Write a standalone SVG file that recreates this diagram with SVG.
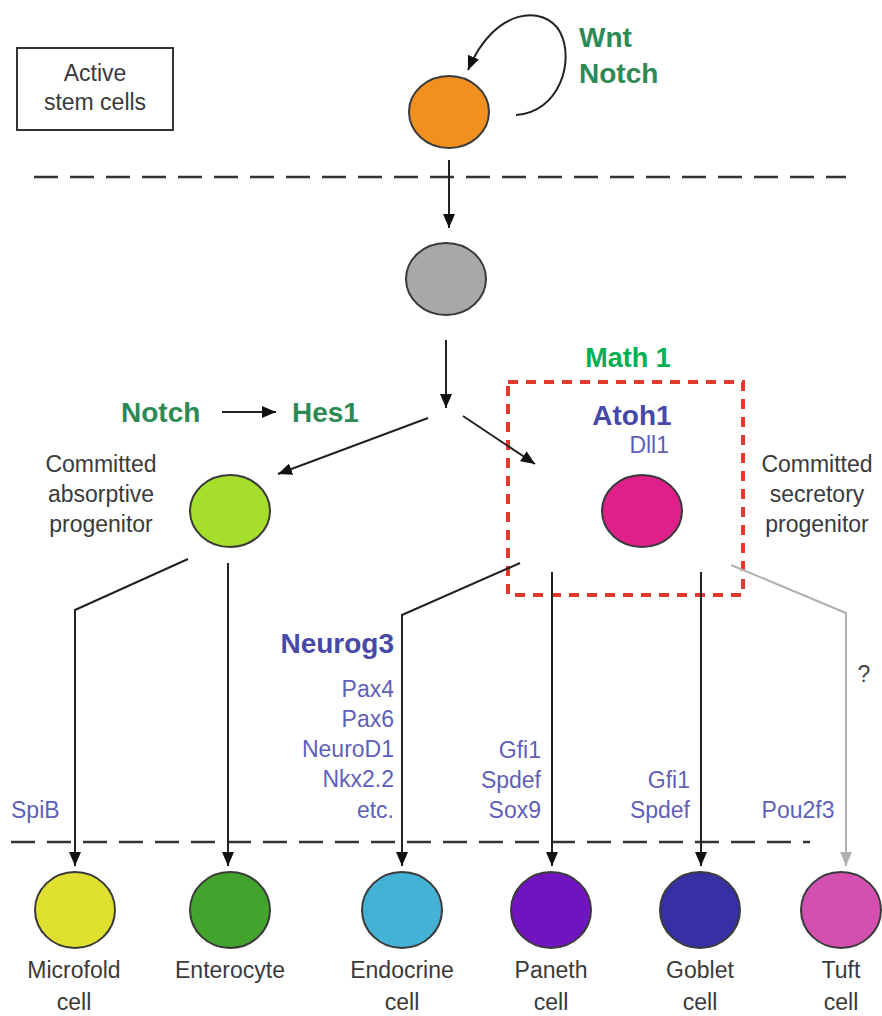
<svg xmlns="http://www.w3.org/2000/svg" width="882" height="1016" viewBox="0 0 882 1016">
<style>
.cell{stroke:#3a3a3a;stroke-width:2}
.lbl{font-family:"Liberation Sans",Arial,sans-serif;font-size:23px;fill:#3a3a3a;text-anchor:middle}
.grn{font-family:"Liberation Sans",Arial,sans-serif;font-size:28px;font-weight:bold;fill:#2e8a55}
.blu{font-family:"Liberation Sans",Arial,sans-serif;font-size:28px;font-weight:bold;fill:#4848a8}
.pur{font-family:"Liberation Sans",Arial,sans-serif;font-size:23px;fill:#5f5fb8}
.ln{fill:none;stroke:#222;stroke-width:2}
.dash{fill:none;stroke:#333;stroke-width:2.5;stroke-dasharray:24 12}
</style>
<defs>
<marker id="ah" markerUnits="userSpaceOnUse" markerWidth="14" markerHeight="12" refX="14" refY="6" orient="auto"><path d="M0,0 L14,6 L0,12 z" fill="#111"/></marker>
<marker id="ahg" markerUnits="userSpaceOnUse" markerWidth="14" markerHeight="12" refX="14" refY="6" orient="auto"><path d="M0,0 L14,6 L0,12 z" fill="#b0b0b0"/></marker>
</defs>
<rect width="882" height="1016" fill="#fff"/>
<g id="legend">
<rect x="17" y="48" width="156" height="82" fill="none" stroke="#333" stroke-width="2"/>
<text class="lbl" x="95" y="81">Active</text>
<text class="lbl" x="95" y="110">stem cells</text>
</g>
<g id="boundaries">
<line class="dash" x1="34" y1="177" x2="846" y2="177"/>
<line class="dash" x1="11" y1="842" x2="810" y2="842"/>
</g>
<g id="secretory-box">
<rect x="508" y="382" width="235" height="213" fill="none" stroke="#e03a2a" stroke-width="4" stroke-dasharray="10 8"/>
<text x="628" y="367" font-family="'Liberation Sans',Arial,sans-serif" font-size="27" font-weight="bold" fill="#00b050" text-anchor="middle">Math 1</text>
</g>
<g id="connectors">
<path class="ln" d="M516,115 C560,112 575,60 560,32 C545,5 495,6 468,70" marker-end="url(#ah)"/>
<path class="ln" d="M449,160 V228" marker-end="url(#ah)"/>
<path class="ln" d="M446,340 V408" marker-end="url(#ah)"/>
<path class="ln" d="M222,412 H276" marker-end="url(#ah)"/>
<path class="ln" d="M428,418 L278,474" marker-end="url(#ah)"/>
<path class="ln" d="M463,416 L535,464" marker-end="url(#ah)"/>
<path class="ln" d="M188,559 L75,610 V866" marker-end="url(#ah)"/>
<path class="ln" d="M228,563 V866" marker-end="url(#ah)"/>
<path class="ln" d="M520,563 L402,615 V866" marker-end="url(#ah)"/>
<path class="ln" d="M552,572 V866" marker-end="url(#ah)"/>
<path class="ln" d="M701,572 V866" marker-end="url(#ah)"/>
<path d="M731,565 L846,613 V866" fill="none" stroke="#b0b0b0" stroke-width="2" marker-end="url(#ahg)"/>
</g>
<g id="stem">
<ellipse class="cell" cx="449" cy="112" rx="40" ry="36" fill="#f0901e"/>
<text class="grn" x="579" y="47">Wnt</text>
<text class="grn" x="579" y="83">Notch</text>
</g>
<g id="transit">
<ellipse class="cell" cx="446" cy="279" rx="40" ry="36" fill="#a8a8a8" stroke="#666"/>
</g>
<g id="notch-hes1">
<text class="grn" x="121" y="422">Notch</text>
<text class="grn" x="292" y="422">Hes1</text>
</g>
<g id="absorptive">
<ellipse class="cell" cx="230" cy="511" rx="40" ry="36" fill="#a6de2c"/>
<text class="lbl" x="101" y="472">Committed</text>
<text class="lbl" x="101" y="502">absorptive</text>
<text class="lbl" x="101" y="532">progenitor</text>
</g>
<g id="secretory">
<ellipse class="cell" cx="642" cy="511" rx="40" ry="36" fill="#e0208a"/>
<text class="blu" x="632" y="425" text-anchor="middle">Atoh1</text>
<text class="pur" x="669" y="453" text-anchor="end">Dll1</text>
<text class="lbl" x="817" y="472">Committed</text>
<text class="lbl" x="817" y="502">secretory</text>
<text class="lbl" x="817" y="532">progenitor</text>
</g>
<g id="factors">
<text class="blu" x="394" y="653" text-anchor="end">Neurog3</text>
<text class="pur" x="394" y="697" text-anchor="end">Pax4</text>
<text class="pur" x="394" y="727" text-anchor="end">Pax6</text>
<text class="pur" x="394" y="757" text-anchor="end">NeuroD1</text>
<text class="pur" x="394" y="787" text-anchor="end">Nkx2.2</text>
<text class="pur" x="394" y="818" text-anchor="end">etc.</text>
<text class="pur" x="541" y="758" text-anchor="end">Gfi1</text>
<text class="pur" x="541" y="788" text-anchor="end">Spdef</text>
<text class="pur" x="541" y="818" text-anchor="end">Sox9</text>
<text class="pur" x="690" y="788" text-anchor="end">Gfi1</text>
<text class="pur" x="690" y="818" text-anchor="end">Spdef</text>
<text class="pur" x="798" y="818" text-anchor="middle">Pou2f3</text>
<text class="pur" x="11" y="818">SpiB</text>
<text class="lbl" x="864" y="682" style="fill:#444">?</text>
</g>
<g id="microfold">
<ellipse class="cell" cx="75" cy="910" rx="40" ry="38" fill="#e0e030"/>
<text class="lbl" x="74" y="978">Microfold</text>
<text class="lbl" x="74" y="1010">cell</text>
</g>
<g id="enterocyte">
<ellipse class="cell" cx="230" cy="910" rx="40" ry="38" fill="#42a42c"/>
<text class="lbl" x="230" y="978">Enterocyte</text>
</g>
<g id="endocrine">
<ellipse class="cell" cx="402" cy="910" rx="40" ry="38" fill="#44b2d4"/>
<text class="lbl" x="402" y="978">Endocrine</text>
<text class="lbl" x="402" y="1010">cell</text>
</g>
<g id="paneth">
<ellipse class="cell" cx="551" cy="910" rx="40" ry="38" fill="#7014c0"/>
<text class="lbl" x="551" y="978">Paneth</text>
<text class="lbl" x="551" y="1010">cell</text>
</g>
<g id="goblet">
<ellipse class="cell" cx="700" cy="910" rx="40" ry="38" fill="#3630a4"/>
<text class="lbl" x="700" y="978">Goblet</text>
<text class="lbl" x="700" y="1010">cell</text>
</g>
<g id="tuft">
<ellipse class="cell" cx="841" cy="910" rx="40" ry="38" fill="#d450b0"/>
<text class="lbl" x="841" y="978">Tuft</text>
<text class="lbl" x="841" y="1010">cell</text>
</g>
</svg>
